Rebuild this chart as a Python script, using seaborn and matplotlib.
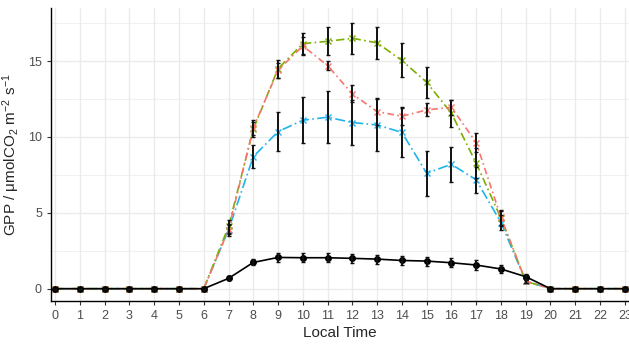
import matplotlib
matplotlib.use('Agg')
import matplotlib.pyplot as plt
import seaborn as sns
import pandas as pd
import numpy as np

# hourly GPP
hours = list(range(24))
gpp_black = [0, 0, 0, 0, 0, 0, 0, 0.68, 1.73, 2.06, 2.04, 2.04, 2.0, 1.95, 1.86, 1.82, 1.71, 1.56, 1.3, 0.79, 0, 0, 0, 0]
err_black = [0, 0, 0, 0, 0, 0, 0, 0.1, 0.2, 0.3, 0.3, 0.3, 0.3, 0.3, 0.3, 0.3, 0.3, 0.3, 0.25, 0.15, 0, 0, 0, 0]
gpp_red = [0, 0, 0, 0, 0, 0, 0, 3.9, 10.6, 14.4, 16.0, 14.7, 12.83, 11.67, 11.36, 11.78, 11.95, 9.63, 4.7, 0.5, 0, 0, 0, 0]
err_red = [0, 0, 0, 0, 0, 0, 0, 0.3, 0.5, 0.5, 0.6, 0.3, 0.56, 0.9, 0.6, 0.43, 0.5, 0.6, 0.5, 0.1, 0, 0, 0, 0]
gpp_green = [0, 0, 0, 0, 0, 0, 0, 4.1, 10.5, 14.5, 16.15, 16.3, 16.5, 16.2, 15.04, 13.6, 11.56, 8.27, 4.65, 0.48, 0, 0, 0, 0]
err_green = [0, 0, 0, 0, 0, 0, 0, 0.4, 0.5, 0.6, 0.7, 0.93, 1.04, 1.04, 1.12, 1.04, 0.9, 1.0, 0.5, 0.1, 0, 0, 0, 0]
gpp_blue = [0, 0, 0, 0, 0, 0, 0, 3.88, 8.7, 10.35, 11.1, 11.3, 10.95, 10.79, 10.3, 7.61, 8.2, 7.17, 4.36, 0.5, 0, 0, 0, 0]
err_blue = [0, 0, 0, 0, 0, 0, 0, 0.4, 0.77, 1.28, 1.5, 1.7, 1.5, 1.7, 1.6, 1.48, 1.16, 0.85, 0.5, 0.1, 0, 0, 0, 0]

series = {
    'black': (gpp_black, err_black, '#000000', '-', 'o'),
    'red': (gpp_red, err_red, '#F8766D', (0, (4, 2, 1, 2)), 'x'),
    'green': (gpp_green, err_green, '#7CAE00', (0, (5, 2, 1, 2)), 'x'),
    'blue': (gpp_blue, err_blue, '#1FB4EC', (0, (6, 2, 1, 2)), 'x'),
}

sns.set_style('white')
plt.rcParams['font.family'] = ['Liberation Sans', 'DejaVu Sans']
plt.rcParams['mathtext.fontset'] = 'custom'
plt.rcParams['mathtext.rm'] = 'Liberation Sans'
plt.rcParams['mathtext.it'] = 'Liberation Sans:italic'

fig, ax = plt.subplots(figsize=(6.29, 3.45), dpi=100)
fig.subplots_adjust(left=0.081, right=1.0, top=0.977, bottom=0.128)

# grid like ggplot
for v in np.arange(0, 18.6, 2.5):
    ax.axhline(v, color='#EBEBEB', lw=1.0 if v % 5 == 0 else 0.5, zorder=0)
for h in hours:
    ax.axvline(h, color='#EBEBEB', lw=1.0, zorder=0)

for name in ['blue', 'green', 'red', 'black']:
    y, e, col, ls, mk = series[name]
    df = pd.DataFrame({'hour': hours, 'gpp': y})
    sns.lineplot(data=df, x='hour', y='gpp', ax=ax, color=col, lw=1.2,
                 linestyle=ls, marker=mk, markersize=4 if mk == 'o' else 5,
                 markeredgewidth=1.0, markeredgecolor=col, zorder=3)
    ax.errorbar(hours, y, yerr=e, fmt='none', ecolor='#111111', elinewidth=1.4,
                capsize=1.5, capthick=1.0, zorder=4)

ax.set_xlim(-0.17, 23.17)
ax.set_ylim(-0.8, 18.5)
ax.set_xticks(hours)
ax.set_yticks([0, 5, 10, 15])
ax.tick_params(axis='both', colors='#333333', labelcolor='#4D4D4D', labelsize=9,
               length=3, width=0.8, direction='out', bottom=True, left=True)
for side in ['top', 'right']:
    ax.spines[side].set_visible(False)
for side in ['left', 'bottom']:
    ax.spines[side].set_color('black')
    ax.spines[side].set_linewidth(1.0)

ax.set_xlabel('Local Time', fontsize=11, labelpad=3)
ax.set_ylabel('GPP / μmolCO$_2$ m$^{-2}$ s$^{-1}$', fontsize=11, labelpad=4)

plt.savefig('out.png', dpi=100)
